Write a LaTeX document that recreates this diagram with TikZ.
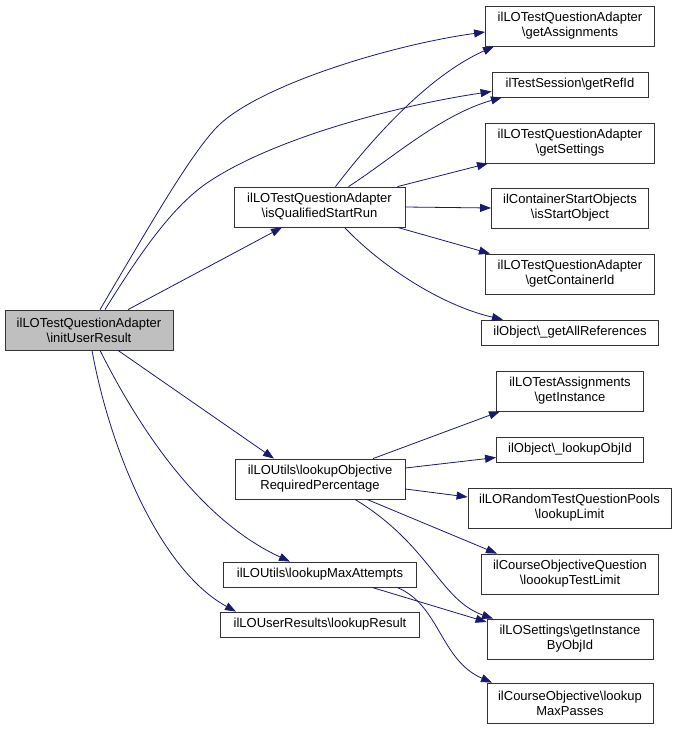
\documentclass[tikz,border=0pt]{standalone}
\usepackage{fontspec}
\setmainfont{Liberation Sans}
\usetikzlibrary{arrows.meta}
\definecolor{edgeblue}{HTML}{191970}
\definecolor{rootgray}{HTML}{BFBFBF}
\begin{document}
\begin{tikzpicture}[x=1pt,y=-1pt,
  box/.style={draw=black!80, line width=0.8pt, fill=white, rectangle, inner sep=0pt, align=center,
     font=\fontsize{13}{15}\selectfont},
  edge/.style={draw=edgeblue, line width=0.8pt, -{Triangle[length=11pt,width=8pt]}}]
\useasboundingbox (0,0) rectangle (679,731);
% nodes
\node[box, fill=rootgray, minimum width=168pt, minimum height=40pt] (root) at (89,330) {ilLOTestQuestionAdapter\\\textbackslash initUserResult};
\node[box, minimum width=171pt, minimum height=40pt] (isq) at (319.5,207) {ilLOTestQuestionAdapter\\\textbackslash isQualifiedStartRun};
\node[box, minimum width=170pt, minimum height=40pt] (lop) at (320,479) {ilLOUtils\textbackslash lookupObjective\\RequiredPercentage};
\node[box, minimum width=193pt, minimum height=25pt] (lma) at (320,574.5) {ilLOUtils\textbackslash lookupMaxAttempts};
\node[box, minimum width=199pt, minimum height=25pt] (lr) at (320,624.5) {ilLOUserResults\textbackslash lookupResult};
\node[box, minimum width=169pt, minimum height=40pt] (ga) at (570,26) {ilLOTestQuestionAdapter\\\textbackslash getAssignments};
\node[box, minimum width=156pt, minimum height=25pt] (refid) at (570,84.5) {ilTestSession\textbackslash getRefId};
\node[box, minimum width=169pt, minimum height=40pt] (gs) at (570,143) {ilLOTestQuestionAdapter\\\textbackslash getSettings};
\node[box, minimum width=157pt, minimum height=40pt] (iso) at (570,208) {ilContainerStartObjects\\\textbackslash isStartObject};
\node[box, minimum width=169pt, minimum height=40pt] (gci) at (570,274) {ilLOTestQuestionAdapter\\\textbackslash getContainerId};
\node[box, minimum width=177pt, minimum height=25pt] (gar) at (570,332.5) {ilObject\textbackslash \_getAllReferences};
\node[box, minimum width=147pt, minimum height=40pt] (gi) at (570,391) {ilLOTestAssignments\\\textbackslash getInstance};
\node[box, minimum width=147pt, minimum height=25pt] (loi) at (570,449.5) {ilObject\textbackslash \_lookupObjId};
\node[box, minimum width=203pt, minimum height=40pt] (ll) at (569.5,508) {ilLORandomTestQuestionPools\\\textbackslash lookupLimit};
\node[box, minimum width=177pt, minimum height=40pt] (ltl) at (570,574) {ilCourseObjectiveQuestion\\\textbackslash loookupTestLimit};
\node[box, minimum width=166pt, minimum height=40pt] (gib) at (570,639) {ilLOSettings\textbackslash getInstance\\ByObjId};
\node[box, minimum width=166pt, minimum height=40pt] (lmp) at (570,703) {ilCourseObjective\textbackslash lookup\\MaxPasses};
% edges from root
\draw[edge] ([xshift=11pt]root.north) .. controls (150,225) and (190,155) .. (217,127) .. controls (257,86) and (390,45) .. ([yshift=-6pt]ga.west);
\draw[edge] ([xshift=16pt]root.north) .. controls (145,245) and (175,205) .. (207,183) .. controls (273,138) and (400,105) .. ([yshift=-7pt]refid.west);
\draw[edge] ([xshift=39pt]root.north) -- ([xshift=-37.5pt]isq.south);
\draw[edge] ([xshift=29pt]root.south) -- ([xshift=-46pt]lop.north);
\draw[edge] ([xshift=11pt]root.south) .. controls (140,430) and (200,520) .. ([xshift=-30pt]lma.north);
\draw[edge] ([xshift=3pt]root.south) .. controls (110,450) and (160,570) .. ([xshift=-84pt]lr.north);
% edges from isQualifiedStartRun
\draw[edge] ([xshift=16pt]isq.north) .. controls (375,135) and (430,75) .. ([xshift=-76pt]ga.south);
\draw[edge] ([xshift=29pt]isq.north) .. controls (390,160) and (440,115) .. ([xshift=-68pt]refid.south);
\draw[edge] ([xshift=78pt]isq.north) -- ([xshift=-82pt]gs.south);
\draw[edge] (isq.east) -- (iso.west);
\draw[edge] ([xshift=78pt]isq.south) -- ([xshift=-80pt]gci.north);
\draw[edge] ([xshift=25pt]isq.south) .. controls (380,265) and (440,305) .. ([xshift=-67pt]gar.north);
% edges from lookupObjectiveRequiredPercentage
\draw[edge] ([xshift=53pt]lop.north) -- ([xshift=-70pt]gi.south);
\draw[edge] ([yshift=11pt]lop.east) -- ([yshift=-8pt]loi.west);
\draw[edge] ([yshift=-10pt]lop.east) -- ([yshift=11pt]ll.west);
\draw[edge] ([xshift=47pt]lop.south) -- ([xshift=-73pt]ltl.north);
\draw[edge] ([xshift=35pt]lop.south) .. controls (430,545) and (440,600) .. ([xshift=-77pt]gib.north);
% edges from lookupMaxAttempts
\draw[edge] ([xshift=52pt]lma.south) -- ([yshift=17pt]gib.west);
\draw[edge] ([xshift=77pt]lma.south) .. controls (440,605) and (440,660) .. ([xshift=-78pt]lmp.north);
\end{tikzpicture}
\end{document}
